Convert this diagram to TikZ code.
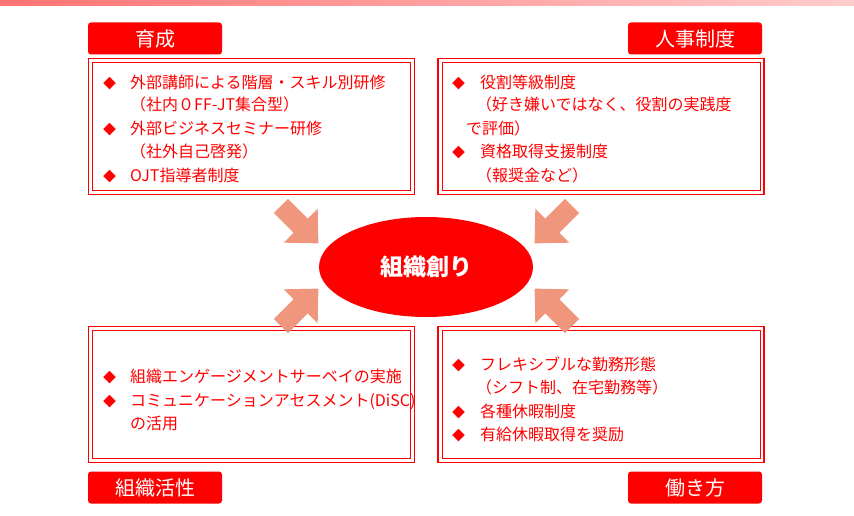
\documentclass[tikz,border=0pt]{standalone}
\usepackage{fontspec}
\setmainfont{Noto Sans CJK JP}
\usetikzlibrary{shapes.geometric}
\definecolor{rd}{RGB}{255,0,0}
\definecolor{salmon}{RGB}{240,150,125}
\begin{document}
\begin{tikzpicture}[x=1pt,y=1pt,
  box/.style={draw=rd,line width=1.8pt,minimum width=326pt,minimum height=136pt,inner sep=0pt},
  inbox/.style={draw=rd,line width=0.8pt,minimum width=318pt,minimum height=128pt,inner sep=0pt},
  lbl/.style={fill=rd,rounded corners=3pt,text=white,font=\fontsize{20}{22}\selectfont,minimum width=134pt,minimum height=32pt,inner sep=0pt},
  txt/.style={anchor=base west,text=rd,font=\fontsize{16}{18}\selectfont,inner sep=0pt},
  bul/.style={anchor=base west,text=rd,font=\fontsize{13}{15}\selectfont,inner sep=0pt}]
\useasboundingbox (0,0) rectangle (854,515);
\shade[left color=rd!55,right color=rd!20] (0,509) rectangle (854,515);
% boxes
\foreach \n/\x/\y in {b1/251.5/388.5,b2/601/388.5,b3/251.5/120.5,b4/601/120.5}{
  \node[box] (\n) at (\x,\y) {};
  \node[inbox] (\n i) at (\x,\y) {};
}
% labels
\node[lbl] (l1) at (155,476.5) {育成};
\node[lbl] (l2) at (695,476.5) {人事制度};
\node[lbl] (l3) at (155,27.5) {組織活性};
\node[lbl] (l4) at (695,27.5) {働き方};
% ellipse
\node[ellipse,fill=rd,minimum width=214pt,minimum height=100pt,text=white,font=\bfseries\fontsize{23}{25}\selectfont] (c) at (426,248) {組織創り};
% arrows
\foreach \x/\y/\a in {300/290/-45,553/290/-135,300/208/45,553/208/135}{
  \fill[salmon,shift={(\x,\y)},rotate=\a] (-27,-10)--(1,-10)--(1,-24)--(26,0)--(1,24)--(1,10)--(-27,10)--cycle;
}
% TL text
\node[bul] (t1b) at (103,426) {◆}; \node[txt] (t1) at (130,426) {外部講師による階層・スキル別研修};
\node[txt] (t2) at (130,404) {（社内０FF-JT集合型）};
\node[bul] (t3b) at (103,380) {◆}; \node[txt] (t3) at (130,380) {外部ビジネスセミナー研修};
\node[txt] (t4) at (130,357) {（社外自己啓発）};
\node[bul] (t5b) at (103,333) {◆}; \node[txt] (t5) at (130,333) {OJT指導者制度};
% TR text
\node[bul] (r1b) at (452,426) {◆}; \node[txt] (r1) at (480,426) {役割等級制度};
\node[txt] (r2) at (476,404) {（好き嫌いではなく、役割の実践度};
\node[txt] (r3) at (466,380) {で評価）};
\node[bul] (r4b) at (452,357) {◆}; \node[txt] (r4) at (480,357) {資格取得支援制度};
\node[txt] (r5) at (476,333) {（報奨金など）};
% BL text
\node[bul] (s1b) at (103,133) {◆}; \node[txt] (s1) at (130,133) {組織エンゲージメントサーベイの実施};
\node[bul] (s2b) at (103,109) {◆}; \node[txt] (s2) at (130,109) {コミュニケーションアセスメント(DiSC)};
\node[txt] (s3) at (130,86) {の活用};
% BR text
\node[bul] (u1b) at (452,145) {◆}; \node[txt] (u1) at (480,145) {フレキシブルな勤務形態};
\node[txt] (u2) at (476,122) {（シフト制、在宅勤務等）};
\node[bul] (u3b) at (452,98) {◆}; \node[txt] (u3) at (480,98) {各種休暇制度};
\node[bul] (u4b) at (452,75) {◆}; \node[txt] (u4) at (480,75) {有給休暇取得を奨励};
\end{tikzpicture}
\end{document}
